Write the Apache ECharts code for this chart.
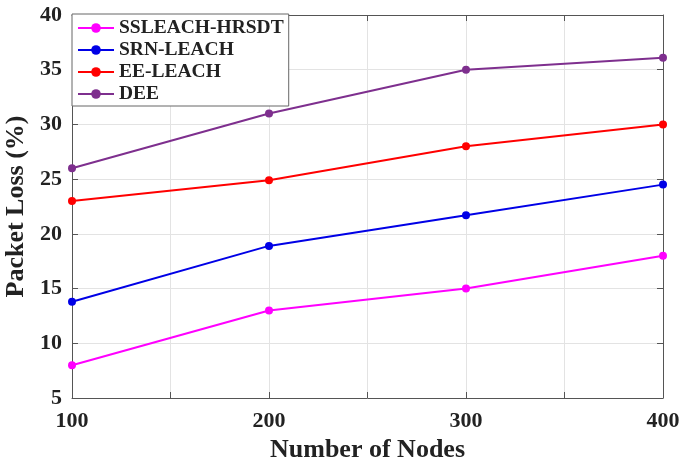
<!DOCTYPE html>
<html><head><meta charset="utf-8">
<script src="https://cdn.jsdelivr.net/npm/echarts@6/dist/echarts.min.js"></script>
<style>html,body{margin:0;padding:0;background:#fff}#c{width:679px;height:468px}</style>
</head><body><div id="c"></div>
<script>
const nodes = [100, 200, 300, 400];
const ssleach = [8, 13, 15, 18];
const srnleach = [13.8, 18.9, 21.7, 24.5];
const eeleach = [23, 24.9, 28, 30];
const dee = [26, 31, 35, 36.1];
const xTicks = [100, 200, 300, 400];
const names = ['SSLEACH-HRSDT', 'SRN-LEACH', 'EE-LEACH', 'DEE'];
const colors = ['#FF00FF', '#0000E6', '#FF0000', '#7E2F8E'];
const F = 'Liberation Serif, Times New Roman, serif';
const pairs = arr => arr.map((v, i) => [nodes[i], v]);
const chart = echarts.init(document.getElementById('c'));
const axisCommon = {
  axisLine: {show: true, lineStyle: {color: '#555', width: 1}},
  axisTick: {show: true, inside: true, length: 6, lineStyle: {color: '#555'}},
};
chart.setOption({
  animation: false,
  grid: {left: 72, right: 16, top: 15, bottom: 70, containLabel: false, outerBoundsMode: 'none'},
  legend: {
    orient: 'vertical', left: 72, top: 14,
    data: names,
    backgroundColor: '#fff', borderColor: '#666', borderWidth: 1, borderRadius: 0,
    padding: [4, 5, 2, 5],
    itemWidth: 36, itemHeight: 12, itemGap: 2,
    textStyle: {fontFamily: F, fontWeight: 'bold', fontSize: 19.5, color: '#222'}
  },
  xAxis: [{
    type: 'value', min: 100, max: 400, interval: 50,
    name: 'Number of Nodes', nameLocation: 'middle', nameGap: 39,
    nameTextStyle: {fontFamily: F, fontWeight: 'bold', fontSize: 26, color: '#222'},
    axisLabel: {fontFamily: F, fontWeight: 'bold', fontSize: 22, color: '#222', margin: 12,
      formatter: v => xTicks.includes(v) ? String(v) : ''},
    splitLine: {show: true, lineStyle: {color: '#e3e3e3'}},
    ...axisCommon
  }, {
    type: 'value', min: 100, max: 400, interval: 50, position: 'top',
    axisLabel: {show: false}, splitLine: {show: false}, ...axisCommon
  }],
  yAxis: [{
    type: 'value', min: 5, max: 40, interval: 5,
    name: 'Packet Loss (%)', nameLocation: 'middle', nameGap: 41,
    nameTextStyle: {fontFamily: F, fontWeight: 'bold', fontSize: 26, color: '#222'},
    axisLabel: {fontFamily: F, fontWeight: 'bold', fontSize: 22, color: '#222', margin: 10},
    splitLine: {show: true, lineStyle: {color: '#e3e3e3'}},
    ...axisCommon
  }, {
    type: 'value', min: 5, max: 40, interval: 5, position: 'right',
    axisLabel: {show: false}, splitLine: {show: false}, ...axisCommon
  }],
  series: [ssleach, srnleach, eeleach, dee].map((arr, i) => ({
    name: names[i], type: 'line', data: pairs(arr),
    symbol: 'circle', symbolSize: 8,
    lineStyle: {color: colors[i], width: 2},
    itemStyle: {color: colors[i]},
    z: 3
  }))
});
</script></body></html>
